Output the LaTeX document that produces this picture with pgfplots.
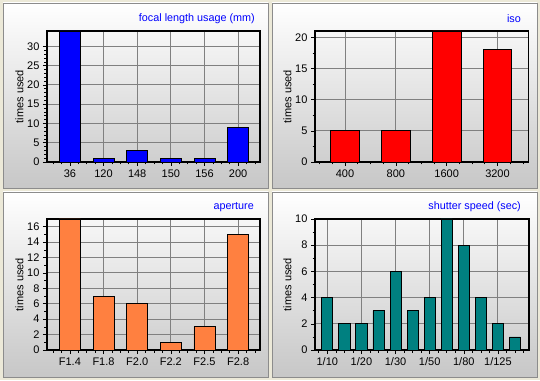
\documentclass[border=0pt]{standalone}
\usepackage{fontspec}
\setmainfont{Liberation Sans}
\usepackage{pgfplots}
\pgfplotsset{compat=1.18}
\definecolor{bgbeige}{HTML}{ECE9D8}
\definecolor{gridgray}{HTML}{808080}
\definecolor{barorange}{HTML}{FF8040}
\definecolor{barteal}{HTML}{008080}
\definecolor{titleblue}{HTML}{0000FF}
\pgfplotsset{panel/.style={
  scale only axis, anchor=south west,
  axis line style={black, line width=1.2pt},
  grid=major, major grid style={gridgray, line width=0.9pt},
  tick align=outside, tick pos=left,
  major tick length=4pt, minor tick length=2.5pt,
  every tick/.style={black, line width=0.6pt},
  ymin=0,
  tick label style={font=\fontsize{11}{13}\selectfont},
  /pgf/number format/assume math mode=true,
  ylabel={times used}, ylabel shift=-3pt,
  label style={font=\fontsize{11}{13}\selectfont},
}}
\begin{document}
\begin{tikzpicture}[x=1pt,y=1pt]
\fill[bgbeige] (0pt,0pt) rectangle (540pt,380pt);
\foreach \x/\y in {3/192, 272/192, 3/3, 272/3}{
  \shade[top color=white, bottom color=black!22] (\x pt,\y pt) rectangle ++(265pt,185pt);
  \draw[black!45, line width=0.8pt] (\x pt,\y pt) rectangle ++(265pt,185pt);
}
% focal length
\begin{axis}[panel, at={(47pt,218pt)}, width=213pt, height=131pt,
  xmin=-0.68, xmax=5.65, ymax=34,
  xtick={0,...,5}, xticklabels={36,120,148,150,156,200},
  minor xtick={-0.5,-0.25,...,5.5},
  ytick={0,5,...,30}, minor y tick num=4]
\addplot[ybar, bar width=0.62, bar shift=0pt, fill=blue, draw=black, line width=0.8pt]
  coordinates {(0,34) (1,1) (2,3) (3,1) (4,1) (5,9)};
\end{axis}
\node[anchor=east, text=titleblue, font=\fontsize{10.8}{13}\selectfont, inner sep=0pt] at (255pt,361pt) {focal length usage (mm)};
% iso
\begin{axis}[panel, at={(315pt,218pt)}, width=213.5pt, height=131pt,
  xmin=-0.59, xmax=3.61, ymax=21,
  xtick={0,...,3}, xticklabels={400,800,1600,3200},
  minor xtick={-0.5,-0.25,...,3.5},
  ytick={0,5,...,20}, minor y tick num=1]
\addplot[ybar, bar width=0.565, bar shift=0pt, fill=red, draw=black, line width=0.8pt]
  coordinates {(0,5) (1,5) (2,21) (3,18)};
\end{axis}
\node[anchor=east, text=titleblue, font=\fontsize{10.8}{13}\selectfont, inner sep=0pt] at (521pt,361pt) {iso};
% aperture
\begin{axis}[panel, at={(47pt,30pt)}, width=213pt, height=131pt,
  xmin=-0.68, xmax=5.65, ymax=17,
  xtick={0,...,5}, xticklabels={F1.4,F1.8,F2.0,F2.2,F2.5,F2.8},
  minor xtick={-0.5,-0.25,...,5.5},
  ytick={0,2,...,16}, minor y tick num=1]
\addplot[ybar, bar width=0.625, bar shift=0pt, fill=barorange, draw=black, line width=0.8pt]
  coordinates {(0,17) (1,7) (2,6) (3,1) (4,3) (5,15)};
\end{axis}
\node[anchor=east, text=titleblue, font=\fontsize{10.8}{13}\selectfont, inner sep=0pt] at (254pt,173pt) {aperture};
% shutter speed
\begin{axis}[panel, at={(315pt,30pt)}, width=214pt, height=131pt,
  xmin=-0.72, xmax=11.82, ymax=10,
  xtick={0,2,...,10}, xticklabels={1/10,1/20,1/30,1/50,1/80,1/125},
  minor xtick={-0.5,0,...,11.5},
  ytick={0,2,...,10}, minor y tick num=1]
\addplot[ybar, bar width=0.65, bar shift=0pt, fill=barteal, draw=black, line width=0.8pt]
  coordinates {(0,4) (1,2) (2,2) (3,3) (4,6) (5,3) (6,4) (7,10) (8,8) (9,4) (10,2) (11,1)};
\end{axis}
\node[anchor=east, text=titleblue, font=\fontsize{10.8}{13}\selectfont, inner sep=0pt] at (521pt,173pt) {shutter speed (sec)};
\end{tikzpicture}
\end{document}
